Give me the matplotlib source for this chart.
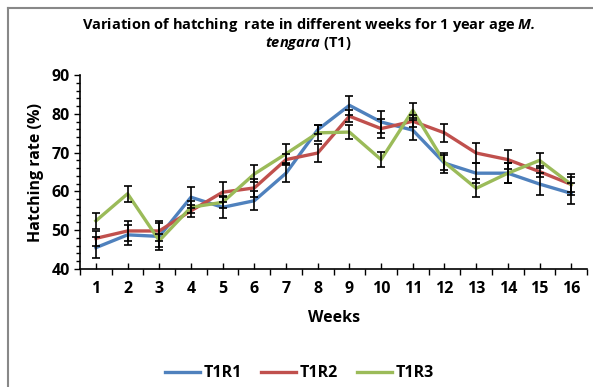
import matplotlib.pyplot as plt
from matplotlib.lines import Line2D
import numpy as np

plt.rcParams["font.family"] = ["Open Sans", "DejaVu Sans"]
plt.rcParams["mathtext.fontset"] = "custom"
plt.rcParams["mathtext.bfit"] = "Open Sans:bold:italic"
plt.rcParams["mathtext.rm"] = "Open Sans"

weeks = list(range(1, 17))
t1r1 = [45.5, 48.8, 48.4, 58.5, 55.9, 57.6, 64.7, 75.9, 82.2, 77.9, 75.8, 67.3, 64.7, 64.7, 61.9, 59.5]
t1r2 = [47.9, 49.8, 49.8, 55.0, 59.8, 60.9, 68.2, 69.9, 79.4, 76.2, 78.1, 75.1, 69.9, 68.2, 65.1, 61.8]
t1r3 = [52.4, 59.4, 47.3, 55.9, 57.2, 64.5, 69.7, 75.1, 75.3, 68.2, 80.9, 67.5, 60.8, 64.7, 68.0, 61.8]
err1 = [2.7, 2.6, 3.4, 2.7, 2.7, 2.4, 2.3, 1.2, 2.4, 2.8, 2.6, 2.5, 2.5, 2.5, 2.8, 2.7]
err2 = [2.0, 2.6, 2.6, 1.5, 2.6, 2.3, 1.5, 2.4, 1.5, 2.4, 1.5, 2.4, 2.7, 2.4, 1.5, 2.7]
err3 = [2.0, 2.1, 1.6, 1.5, 1.5, 2.2, 2.4, 2.0, 1.7, 2.0, 2.0, 2.0, 2.3, 2.5, 2.0, 2.0]

series = [
    ("T1R1", t1r1, err1, "#4F81BD"),
    ("T1R2", t1r2, err2, "#C0504D"),
    ("T1R3", t1r3, err3, "#9BBB59"),
]

fig = plt.figure(figsize=(5.93, 3.87), dpi=100)
ax = fig.add_axes([0.135, 0.305, 0.855, 0.501])

for name, vals, err, color in series:
    ax.plot(weeks, vals, color=color, linewidth=2.4, label=name, zorder=2)
for name, vals, err, color in series:
    ax.errorbar(weeks, vals, yerr=err, fmt="none", ecolor="black",
                elinewidth=1.2, capsize=2.8, capthick=1.2, zorder=3)

ax.set_xlim(0.5, 16.5)
ax.set_ylim(40, 90)
ax.set_yticks(np.arange(40, 91, 10))
ax.set_yticks(np.arange(40, 91, 2), minor=True)
ax.set_xticks(weeks)
ax.set_xticks(np.arange(0.5, 16.6, 1), minor=True)
ax.tick_params(axis="both", which="major", labelsize=11.5, width=1, length=4)
ax.tick_params(axis="x", which="major", direction="in", length=4, pad=9)
ax.tick_params(axis="x", which="minor", direction="out", length=4, width=1)
ax.tick_params(axis="y", which="minor", direction="out", length=3, width=1)
for lab in ax.get_xticklabels() + ax.get_yticklabels():
    lab.set_fontweight("bold")

for side in ("top", "right"):
    ax.spines[side].set_visible(False)
for side in ("left", "bottom"):
    ax.spines[side].set_linewidth(1.2)

ax.set_xlabel("Weeks", fontsize=11.5, fontweight="bold", labelpad=9)
ax.set_ylabel("Hatching rate (%)", fontsize=11.5, fontweight="bold", labelpad=5)

fig.text(0.52, 0.935, "Variation of hatching  rate in different weeks for 1 year age $\\mathbfit{M.}$",
         ha="center", va="center", fontsize=10.5, fontweight="bold")
fig.text(0.52, 0.888, "$\\mathbfit{tengara}$ (T1)", ha="center", va="center",
         fontsize=10.5, fontweight="bold")

handles = [Line2D([], [], color=c, linewidth=2.4) for _, _, _, c in series]
fig.legend(handles, [s[0] for s in series], loc="center", bbox_to_anchor=(0.505, 0.035),
           ncol=3, frameon=False, prop={"size": 11.5, "weight": "bold"},
           handlelength=2.2, handletextpad=0.2, columnspacing=1.2)

fig.add_artist(Line2D([7.5 / 593, 7.5 / 593], [0, 1 - 7.5 / 387], color="#888888",
                      linewidth=1.5, transform=fig.transFigure))
fig.add_artist(Line2D([7.5 / 593, 1], [1 - 7.5 / 387, 1 - 7.5 / 387], color="#888888",
                      linewidth=1.5, transform=fig.transFigure))

fig.savefig("out.png", dpi=100)
